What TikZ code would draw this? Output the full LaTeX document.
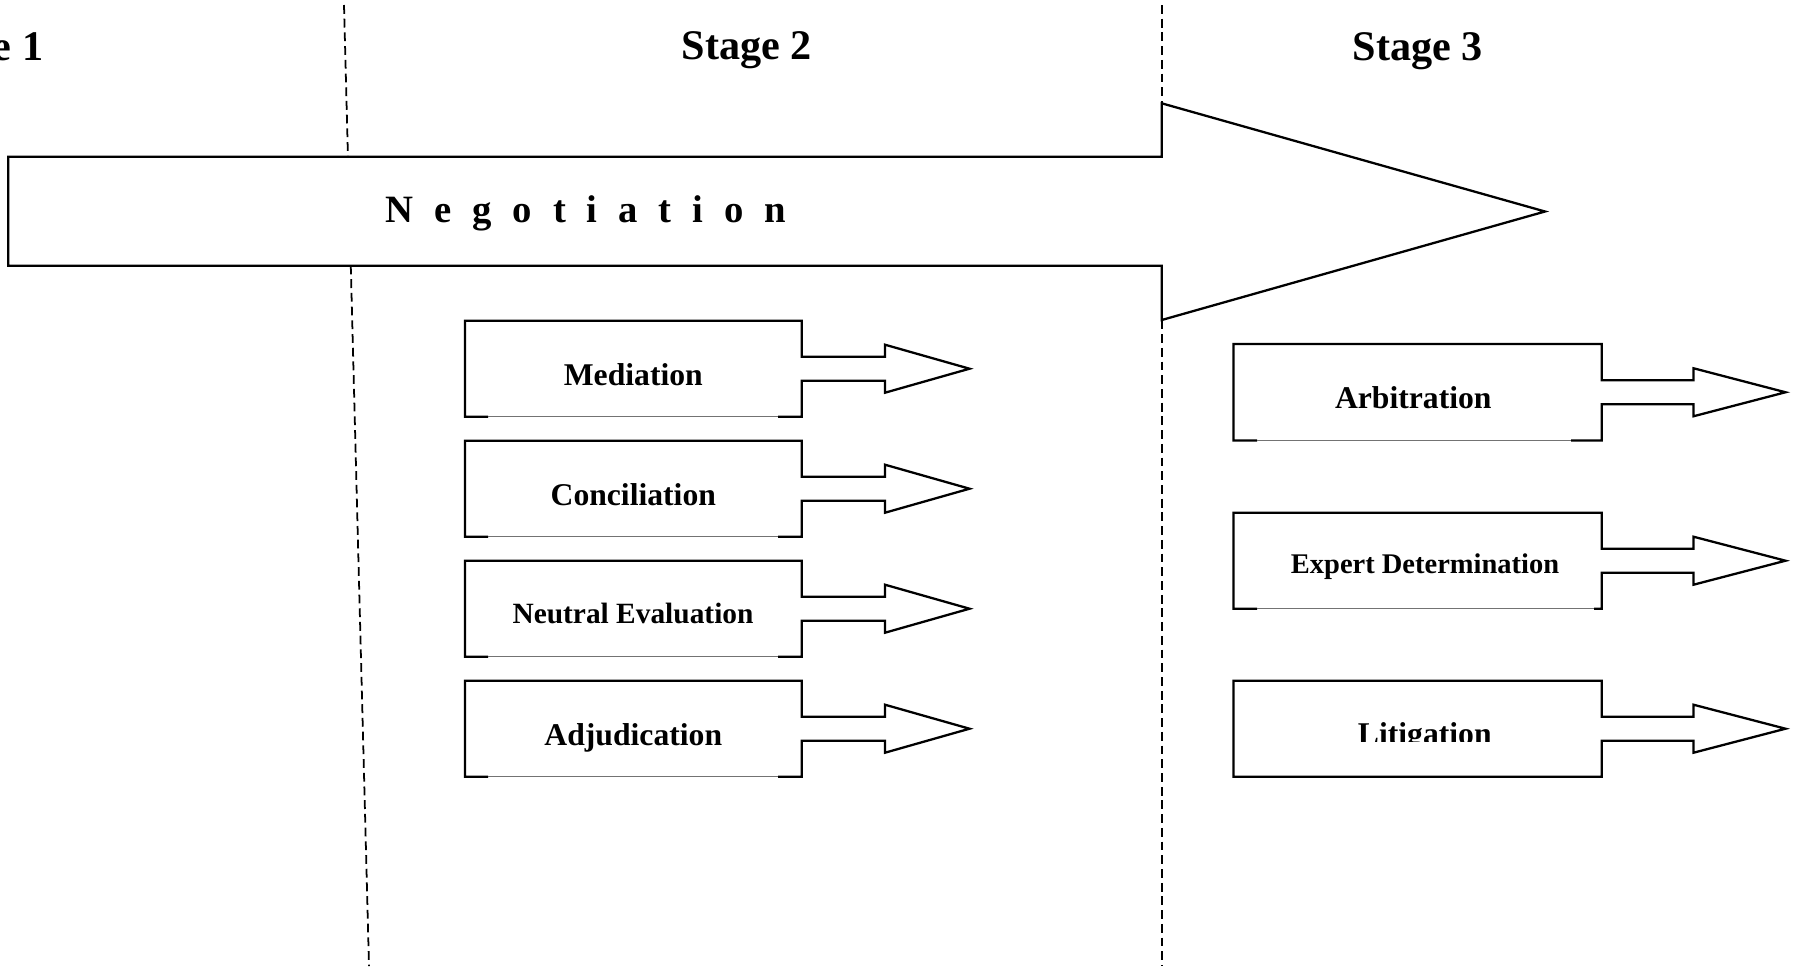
\documentclass[tikz,border=0pt]{standalone}
\usepackage{fontspec}
\setmainfont{Liberation Serif}
\newcommand{\lsgap}{\hspace{5.95pt}}
\newcommand{\drawprocbox}[8]{%
  \pgfmathsetmacro{\pbmid}{(#2+#3)/2}%
  \draw[outline] ({#1+#7},#3) -- (#1,#3) -- (#1,#2) -- (#4,#2) -- (#4,\pbmid-12) -- (#5,\pbmid-12) -- (#5,\pbmid-24) -- (#6,\pbmid) -- (#5,\pbmid+24) -- (#5,\pbmid+12) -- (#4,\pbmid+12) -- (#4,#3) -- ({#4-#8},#3);
  \draw[thinedge] ({#1+#7},#3) -- ({#4-#8},#3);
}
\begin{document}
\begin{tikzpicture}[x=0.01cm,y=-0.01cm,
  outline/.style={line width=0.65pt, line join=miter},
  divider/.style={line width=0.5pt, dash pattern=on 2.5pt off 1.4pt},
  thinedge/.style={line width=0.3pt, draw=black!55},
  stagelabel/.style={font=\bfseries\fontsize{12}{14}\selectfont, inner sep=0pt, anchor=base},
  boxlabel/.style={font=\bfseries\fontsize{9}{11}\selectfont, inner sep=0pt, anchor=base},
]
\useasboundingbox (0,0) rectangle (1797,969);

% stage dividers
\coordinate (d1top) at (344,5);
\coordinate (d1bot) at (369,966);
\coordinate (d2top) at (1161.7,5);
\coordinate (d2bot) at (1161.7,966);
\draw[divider] (d1top) -- (d1bot);
\draw[divider] (d2top) -- (d2bot);

% stage labels
\node[stagelabel, anchor=base east] (s1) at (44,60) {Stage 1};
\node[stagelabel] (s2) at (746.7,59.5) {Stage 2};
\node[stagelabel] (s3) at (1418,60.5) {Stage 3};

% main negotiation arrow
\draw[outline, fill=white] (8.3,156.7) -- (1161.7,156.7) -- (1161.7,103.3) -- (1545,211.5) -- (1161.7,320) -- (1161.7,265.7) -- (8.3,265.7) -- cycle;
\node[font=\bfseries\fontsize{11}{13}\selectfont, inner sep=0pt, anchor=base west] (neg) at (385,222.3)
  {N\lsgap e\lsgap g\lsgap o\lsgap t\lsgap i\lsgap a\lsgap t\lsgap i\lsgap o\lsgap n};

% stage 2 boxes
\drawprocbox{465}{320.7}{416.7}{801.7}{885}{969.5}{23}{23.5}
\drawprocbox{465}{440.7}{536.7}{801.7}{885}{969.5}{23}{23.5}
\drawprocbox{465}{560.7}{656.7}{801.7}{885}{969.5}{23}{23.5}
\drawprocbox{465}{680.7}{776.7}{801.7}{885}{969.5}{23}{23.5}
\node[boxlabel] (med) at (633.3,385) {Mediation};
\node[boxlabel] (con) at (633.3,505) {Conciliation};
\node[boxlabel, font=\bfseries\fontsize{8.36}{10}\selectfont] (neu) at (633,623.5) {Neutral Evaluation};
\node[boxlabel] (adj) at (633.3,745) {Adjudication};

% stage 3 boxes
\drawprocbox{1233.5}{344}{440.5}{1601.7}{1693.5}{1785.5}{23.5}{30.7}
\drawprocbox{1233.5}{512.7}{608.7}{1601.7}{1693.5}{1785.5}{23.5}{7.6}
\drawprocbox{1233.5}{680.7}{776.7}{1601.7}{1693.5}{1785.5}{184.1}{184.1}
\node[boxlabel] (arb) at (1413.3,408.3) {Arbitration};
\node[boxlabel, font=\bfseries\fontsize{8.1}{10}\selectfont] (exp) at (1425,573.3) {Expert Determination};
\begin{scope}
  \clip (1300,690) rectangle (1560,741.7);
  \node[boxlabel] (lit) at (1424.8,744.5) {Litigation};
\end{scope}
\end{tikzpicture}
\end{document}
